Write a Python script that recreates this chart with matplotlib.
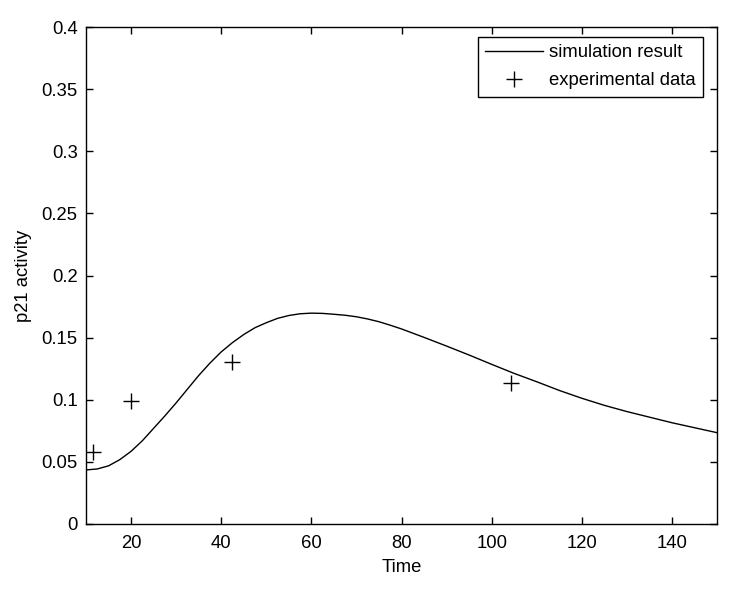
import matplotlib
matplotlib.use("Agg")
import matplotlib.pyplot as plt
from matplotlib.ticker import FuncFormatter

plt.rcParams['font.family'] = ['Liberation Sans', 'DejaVu Sans']

# simulation curve
sim_time = [10, 12.5, 15, 17.5, 20, 22.5, 25, 27.5, 30, 32.5, 35, 37.5, 40, 42.5,
            45, 47.5, 50, 52.5, 55, 57.5, 60, 62.5, 65, 67.5, 70, 72.5, 75, 77.5,
            80, 85, 90, 95, 100, 105, 110, 115, 120, 125, 130, 135, 140, 145, 150]
sim_p21 = [0.0435, 0.0443, 0.0468, 0.0518, 0.0585, 0.0670, 0.0770, 0.0870, 0.0975,
           0.1085, 0.1195, 0.1295, 0.1385, 0.1460, 0.1525, 0.1580, 0.1620, 0.1655,
           0.1678, 0.1692, 0.1697, 0.1695, 0.1688, 0.1680, 0.1668, 0.1650, 0.1628,
           0.1600, 0.1570, 0.1502, 0.1432, 0.1360, 0.1285, 0.1212, 0.1145, 0.1075,
           0.1012, 0.0955, 0.0905, 0.0860, 0.0815, 0.0775, 0.0735]

# experimental data
exp_time = [11.6, 20.0, 42.4, 104.4]
exp_p21 = [0.058, 0.099, 0.130, 0.1135]

x_ticks = [20, 40, 60, 80, 100, 120, 140]
y_ticks = [0, 0.05, 0.1, 0.15, 0.2, 0.25, 0.3, 0.35, 0.4]

fs = 13.3

fig = plt.figure(figsize=(7.38, 5.90), dpi=100)
ax = fig.add_axes([86/738, 66/590, (717-86)/738, (524-27)/590])

ax.plot(sim_time, sim_p21, color='black', linewidth=1.0, label='simulation result')
ax.plot(exp_time, exp_p21, linestyle='none', marker='+', color='black',
        markersize=11, markeredgewidth=1.0, label='experimental data')

ax.set_xlim(10, 150)
ax.set_ylim(0, 0.4)
ax.set_xticks(x_ticks)
ax.set_yticks(y_ticks)
ax.yaxis.set_major_formatter(FuncFormatter(lambda v, p: ('%g' % round(v, 4))))
ax.tick_params(direction='in', top=True, right=True, length=5, width=1.0,
               labelsize=fs)
ax.tick_params(axis='x', pad=8)
ax.tick_params(axis='y', pad=6)
for s in ax.spines.values():
    s.set_linewidth(1.0)

ax.set_xlabel('Time', fontsize=fs, labelpad=5)
ax.set_ylabel('p21 activity', fontsize=fs, labelpad=7)

leg = ax.legend(loc='upper right', bbox_to_anchor=(703/738, (590-37)/590),
                bbox_transform=fig.transFigure, borderaxespad=0,
                fontsize=fs, frameon=True, fancybox=False,
                edgecolor='black', framealpha=1, borderpad=0.4, handlelength=3.1,
                handletextpad=0.35, labelspacing=0.6)
leg.get_frame().set_linewidth(1.0)

fig.savefig('out.png', dpi=100)
